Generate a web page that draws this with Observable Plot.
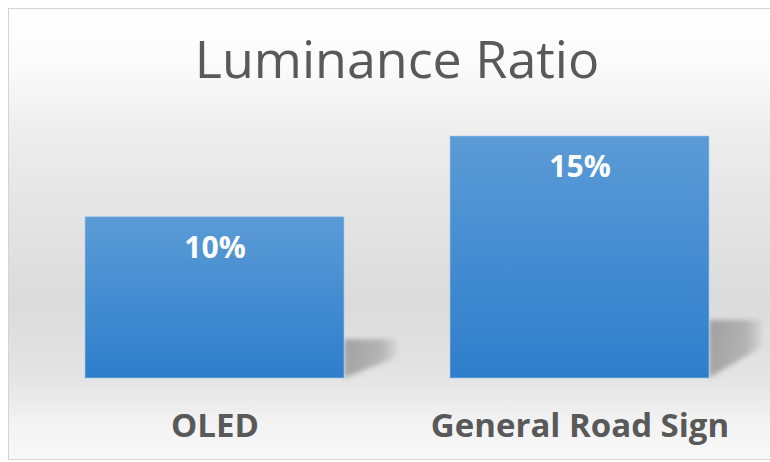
<!DOCTYPE html>
<html>
<head>
<meta charset="utf-8">
<script src="https://cdn.jsdelivr.net/npm/d3@7"></script>
<script src="https://cdn.jsdelivr.net/npm/@observablehq/plot@0.6"></script>
<style>
  html, body { margin: 0; padding: 0; background: #ffffff; }
  #wrap { position: relative; width: 770px; height: 462px; overflow: hidden; }
  #panel {
    position: absolute; left: 8px; top: 8px; width: 770px; height: 450px;
    border: 1px solid #d4d4d4;
    background: linear-gradient(to bottom, #ffffff 0%, #fbfbfb 12%, #ececec 29%, #dbdbdb 65%, #e4e4e4 82%, #f4f4f4 93%, #f8f8f8 100%);
  }
  #chart { position: absolute; left: 0; top: 0; }
</style>
</head>
<body>
<div id="wrap"><div id="panel"></div><div id="chart"></div></div>
<script>
const title = "Luminance Ratio";
const categories = ["OLED", "General Road Sign"];
const values = [10, 15];
const valueLabels = ["10%", "15%"];

const data = categories.map((c, i) => ({category: c, value: values[i], label: valueLabels[i]}));

const shadow = (index, scales, vals) => {
  const g = d3.create("svg:g").attr("filter", "url(#shadowBlur)");
  const bw = scales.x.bandwidth();
  for (const i of index) {
    const xr = vals.x[i] + bw;
    const yb = vals.y1[i];
    const h = yb - vals.y2[i];
    const pts = [[xr, yb], [xr, yb - 0.24 * h], [xr + 53, yb - 0.24 * h], [xr + 53, yb - 0.13 * h]];
    g.append("polygon").attr("points", pts.map(p => p.join(",")).join(" ")).attr("fill", "url(#shadowGrad)");
  }
  return g.node();
};

const plot = Plot.plot({
  width: 770,
  height: 462,
  marginTop: 136,
  marginBottom: 84,
  marginLeft: 29,
  marginRight: 6,
  style: {background: "transparent", fontFamily: "'Open Sans', sans-serif", overflow: "visible"},
  x: {domain: categories, paddingInner: 0.2914, paddingOuter: 0.15, label: null},
  y: {domain: [0, 15], axis: null},
  marks: [
    Plot.barY(data, {x: "category", y: "value", render: shadow}),
    Plot.barY(data, {x: "category", y: "value", fill: "url(#barGrad)", stroke: "#a9cdef", strokeOpacity: 0.6, strokeWidth: 1}),
    Plot.text(data, {x: "category", y: "value", text: "label", dy: 31, fill: "white", fontWeight: "bold", fontSize: 30, lineAnchor: "middle"}),
    Plot.axisX({tickSize: 0, tickPadding: 35, fontSize: 33, fontWeight: "bold", fill: "#595959", label: null}),
    Plot.text([title], {frameAnchor: "top", dy: -75, fontSize: 52, fill: "#595959", lineAnchor: "middle"})
  ]
});

const svg = d3.select(plot);
const defs = svg.insert("defs", ":first-child");
const bg = defs.append("linearGradient").attr("id", "barGrad").attr("x1", 0).attr("y1", 0).attr("x2", 0).attr("y2", 1);
bg.append("stop").attr("offset", "0%").attr("stop-color", "#5b9bd6");
bg.append("stop").attr("offset", "100%").attr("stop-color", "#2e7ecb");
const sg = defs.append("linearGradient").attr("id", "shadowGrad").attr("x1", 0).attr("y1", 0).attr("x2", 1).attr("y2", 0);
sg.append("stop").attr("offset", "0%").attr("stop-color", "#000").attr("stop-opacity", 0.28);
sg.append("stop").attr("offset", "70%").attr("stop-color", "#000").attr("stop-opacity", 0.2);
sg.append("stop").attr("offset", "100%").attr("stop-color", "#000").attr("stop-opacity", 0.04);
const f = defs.append("filter").attr("id", "shadowBlur").attr("x", "-20%").attr("y", "-20%").attr("width", "140%").attr("height", "140%");
f.append("feGaussianBlur").attr("stdDeviation", 2.5);

document.getElementById("chart").appendChild(plot);
</script>
</body>
</html>
